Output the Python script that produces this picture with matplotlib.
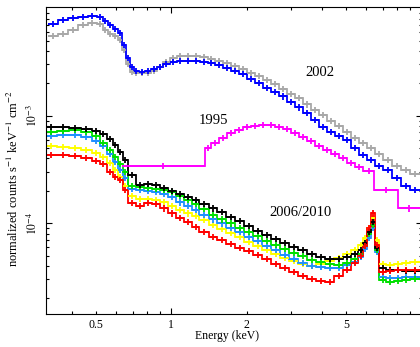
import numpy as np
import matplotlib
matplotlib.use('Agg')
import matplotlib.pyplot as plt
from matplotlib.ticker import FixedLocator, FuncFormatter, NullFormatter

plt.rcParams['font.family'] = ['Liberation Serif', 'DejaVu Serif']
plt.rcParams['mathtext.fontset'] = 'stix'

# 2006/2010 spectra (shared binning, keV)
edges_0610 = [0.313, 0.349, 0.390, 0.435, 0.482, 0.518, 0.552, 0.584, 0.611, 0.640,
              0.670, 0.721, 0.776, 0.835, 0.898, 0.967, 1.04, 1.12, 1.205, 1.296,
              1.408, 1.529, 1.661, 1.804, 1.959, 2.128, 2.311, 2.510, 2.726, 2.960,
              3.215, 3.492, 3.793, 4.119, 4.473, 4.859, 5.229, 5.574, 5.836, 6.054,
              6.281, 6.516, 6.760, 7.209, 7.755, 8.349, 8.981, 9.845]
black = [7.85e-4, 7.85e-4, 7.69e-4, 7.52e-4, 7.21e-4, 6.76e-4, 6.07e-4, 5.34e-4, 4.60e-4, 3.87e-4,
         2.81e-4, 2.27e-4, 2.32e-4, 2.27e-4, 2.13e-4, 1.99e-4, 1.87e-4, 1.75e-4, 1.64e-4, 1.51e-4,
         1.38e-4, 1.27e-4, 1.14e-4, 1.05e-4, 9.42e-5, 8.46e-5, 7.77e-5, 7.13e-5, 6.54e-5, 6.01e-5,
         5.63e-5, 5.17e-5, 4.85e-5, 4.65e-5, 4.65e-5, 4.85e-5, 5.17e-5, 5.63e-5, 6.54e-5, 8.28e-5,
         1.03e-4, 5.88e-5, 3.83e-5, 3.67e-5, 3.67e-5, 3.59e-5, 3.59e-5]
red = [4.31e-4, 4.31e-4, 4.22e-4, 4.04e-4, 3.79e-4, 3.55e-4, 3.00e-4, 2.69e-4, 2.52e-4, 2.04e-4,
       1.54e-4, 1.45e-4, 1.54e-4, 1.51e-4, 1.38e-4, 1.24e-4, 1.12e-4, 1.03e-4, 9.22e-5, 8.28e-5,
       7.44e-5, 6.98e-5, 6.40e-5, 5.88e-5, 5.51e-5, 5.06e-5, 4.65e-5, 4.17e-5, 3.83e-5, 3.52e-5,
       3.23e-5, 3.03e-5, 2.90e-5, 2.84e-5, 3.23e-5, 3.67e-5, 4.26e-5, 4.95e-5, 6.14e-5, 9.02e-5,
       1.24e-4, 6.27e-5, 3.52e-5, 3.59e-5, 3.67e-5, 3.67e-5, 3.67e-5]
yellow = [5.22e-4, 5.11e-4, 5.01e-4, 4.80e-4, 4.50e-4, 4.13e-4, 3.63e-4, 3.13e-4, 2.69e-4, 2.22e-4,
          1.79e-4, 1.68e-4, 1.68e-4, 1.64e-4, 1.57e-4, 1.45e-4, 1.33e-4, 1.24e-4, 1.17e-4, 1.07e-4,
          9.62e-5, 8.83e-5, 8.11e-5, 7.44e-5, 6.69e-5, 6.14e-5, 5.63e-5, 5.17e-5, 4.75e-5, 4.45e-5,
          4.17e-5, 4.00e-5, 4.17e-5, 4.45e-5, 4.75e-5, 5.17e-5, 5.63e-5, 6.27e-5, 7.28e-5, 9.02e-5,
          1.12e-4, 6.98e-5, 4.17e-5, 4.08e-5, 4.17e-5, 4.26e-5, 4.36e-5]
green = [7.05e-4, 7.21e-4, 7.36e-4, 7.05e-4, 6.47e-4, 5.57e-4, 4.80e-4, 4.13e-4, 3.55e-4, 3.00e-4,
         2.22e-4, 2.17e-4, 2.13e-4, 2.08e-4, 2.04e-4, 1.95e-4, 1.79e-4, 1.64e-4, 1.51e-4, 1.36e-4,
         1.19e-4, 1.09e-4, 1.00e-4, 9.02e-5, 8.28e-5, 7.60e-5, 6.83e-5, 6.27e-5, 5.75e-5, 5.28e-5,
         4.95e-5, 4.55e-5, 4.36e-5, 4.17e-5, 4.08e-5, 4.26e-5, 4.65e-5, 5.17e-5, 6.14e-5, 7.93e-5,
         9.62e-5, 5.63e-5, 2.96e-5, 2.84e-5, 2.90e-5, 2.96e-5, 3.03e-5]
blue06 = [6.47e-4, 6.61e-4, 6.61e-4, 6.34e-4, 5.82e-4, 5.22e-4, 4.40e-4, 3.71e-4, 3.13e-4, 2.63e-4,
          2.08e-4, 2.04e-4, 1.99e-4, 1.95e-4, 1.87e-4, 1.75e-4, 1.57e-4, 1.45e-4, 1.33e-4, 1.19e-4,
          1.09e-4, 1.00e-4, 9.02e-5, 8.28e-5, 7.44e-5, 6.83e-5, 6.14e-5, 5.63e-5, 5.06e-5, 4.65e-5,
          4.26e-5, 4.00e-5, 3.91e-5, 3.83e-5, 3.83e-5, 4.08e-5, 4.36e-5, 4.85e-5, 5.75e-5, 7.28e-5,
          9.02e-5, 5.40e-5, 3.16e-5, 3.09e-5, 3.09e-5, 3.16e-5, 3.16e-5]

# 2002 spectra
edges_2002 = [0.322, 0.352, 0.386, 0.423, 0.464, 0.504, 0.532, 0.558, 0.584, 0.611,
              0.634, 0.658, 0.682, 0.708, 0.741, 0.783, 0.827, 0.874, 0.923, 0.985,
              1.050, 1.119, 1.205, 1.297, 1.395, 1.501, 1.616, 1.739, 1.871, 2.014,
              2.168, 2.332, 2.510, 2.701, 2.906, 3.127, 3.366, 3.622, 3.898, 4.195,
              4.514, 4.859, 5.228, 5.626, 6.055, 6.516, 7.015, 7.616, 8.270, 8.981, 9.845]
blue02 = [7.13e-3, 7.77e-3, 8.11e-3, 8.28e-3, 8.46e-3, 8.28e-3, 7.60e-3, 6.98e-3, 6.40e-3, 5.88e-3,
          4.55e-3, 3.44e-3, 2.84e-3, 2.60e-3, 2.55e-3, 2.60e-3, 2.72e-3, 2.84e-3, 3.03e-3, 3.16e-3,
          3.23e-3, 3.23e-3, 3.23e-3, 3.16e-3, 3.09e-3, 2.96e-3, 2.78e-3, 2.60e-3, 2.44e-3, 2.19e-3,
          2.02e-3, 1.81e-3, 1.66e-3, 1.52e-3, 1.34e-3, 1.20e-3, 1.06e-3, 9.12e-4, 7.85e-4, 7.05e-4,
          6.47e-4, 5.94e-4, 5.01e-4, 4.31e-4, 3.87e-4, 3.40e-4, 3.13e-4, 2.63e-4, 2.22e-4, 2.04e-4]
gray02 = [5.51e-3, 5.75e-3, 6.27e-3, 6.98e-3, 7.28e-3, 7.13e-3, 6.27e-3, 5.75e-3, 5.51e-3, 5.06e-3,
          4.09e-3, 3.03e-3, 2.55e-3, 2.50e-3, 2.50e-3, 2.50e-3, 2.60e-3, 2.84e-3, 3.16e-3, 3.44e-3,
          3.59e-3, 3.59e-3, 3.59e-3, 3.52e-3, 3.37e-3, 3.23e-3, 3.09e-3, 2.90e-3, 2.72e-3, 2.50e-3,
          2.34e-3, 2.15e-3, 1.97e-3, 1.77e-3, 1.59e-3, 1.46e-3, 1.28e-3, 1.13e-3, 1.015e-3, 8.93e-4,
          8.02e-4, 7.05e-4, 6.20e-4, 5.57e-4, 5.01e-4, 4.40e-4, 3.87e-4, 3.40e-4, 3.13e-4, 2.87e-4]

# 1995 spectrum
edges_1995 = [0.634, 1.357, 1.447, 1.557, 1.676, 1.804, 1.941, 2.089, 2.248, 2.419,
              2.603, 2.802, 3.015, 3.245, 3.492, 3.758, 4.044, 4.351, 4.683, 5.040,
              5.424, 5.836, 6.462, 8.054, 9.845]
mag95 = [3.40e-4, 5.01e-4, 5.57e-4, 6.20e-4, 6.90e-4, 7.36e-4, 7.85e-4, 8.02e-4, 8.19e-4, 8.19e-4,
         7.85e-4, 7.52e-4, 6.90e-4, 6.34e-4, 5.82e-4, 5.22e-4, 4.80e-4, 4.40e-4, 4.04e-4, 3.63e-4,
         3.33e-4, 3.06e-4, 2.04e-4, 1.38e-4]

fig = plt.figure(figsize=(4.2, 3.47), dpi=100)
ax = fig.add_axes([0.1088, 0.0965, 0.8952, 0.8825])


def spectrum(edges, vals, color, lw=1.3):
    edges = np.array(edges)
    vals = np.array(vals)
    ax.stairs(vals, edges, baseline=None, color=color, lw=lw)
    ctr = np.sqrt(edges[:-1] * edges[1:])
    ax.errorbar(ctr, vals, xerr=[ctr - edges[:-1], edges[1:] - ctr], yerr=vals * 0.07,
                fmt='none', ecolor=color, elinewidth=lw, capsize=0)


spectrum(edges_2002, gray02, '#a8a8a8')
spectrum(edges_2002, blue02, '#0000ff')
spectrum(edges_1995, mag95, '#ff00ff')
spectrum(edges_0610, yellow, '#ffff00')
spectrum(edges_0610, blue06, '#1e90ff')
spectrum(edges_0610, green, '#00e000')
spectrum(edges_0610, black, 'black')
spectrum(edges_0610, red, '#ff0000')

ax.set_xscale('log')
ax.set_yscale('log')
ax.set_xlim(0.315, 10)
ax.set_ylim(1.445e-5, 1.02e-2)

xlab = {0.5: '0.5', 1: '1', 2: '2', 5: '5'}
ax.xaxis.set_major_locator(FixedLocator([1, 10]))
ax.xaxis.set_minor_locator(FixedLocator([0.4, 0.5, 0.6, 0.7, 0.8, 0.9, 2, 3, 4, 5, 6, 7, 8, 9]))
fmt = FuncFormatter(lambda v, p: xlab.get(round(v, 2), ''))
ax.xaxis.set_major_formatter(fmt)
ax.xaxis.set_minor_formatter(fmt)

ax.yaxis.set_major_locator(FixedLocator([1e-4, 1e-3]))
ax.yaxis.set_minor_locator(FixedLocator([m * d for d in (1e-5, 1e-4, 1e-3) for m in range(2, 10)]))
ax.yaxis.set_major_formatter(FuncFormatter(lambda v, p: '$10^{%d}$' % round(np.log10(v))))
ax.yaxis.set_minor_formatter(NullFormatter())

ax.tick_params(which='both', direction='in', top=True, right=True, width=0.8,
               labelsize=8.5, pad=4)
ax.tick_params(which='major', length=4.5)
ax.tick_params(which='minor', length=2.3)
ax.tick_params(axis='y', labelrotation=90)
for lbl in ax.get_yticklabels():
    lbl.set_va('center')
for s in ax.spines.values():
    s.set_linewidth(0.8)

ax.set_xlabel('Energy (keV)', fontsize=8.5)
ax.xaxis.set_label_coords(0.482, -0.054)
ax.set_ylabel('normalized counts s$^{-1}$ keV$^{-1}$ cm$^{-2}$', fontsize=9)
ax.yaxis.set_label_coords(-0.066, 0.4425)

ax.text(3.93, 2.52e-3, '2002', fontsize=10.5, ha='center', va='center')
ax.text(1.474, 9.12e-4, '1995', fontsize=10.5, ha='center', va='center')
ax.text(3.27, 1.26e-4, '2006/2010', fontsize=10.5, ha='center', va='center')

fig.savefig('out.png', dpi=100)
